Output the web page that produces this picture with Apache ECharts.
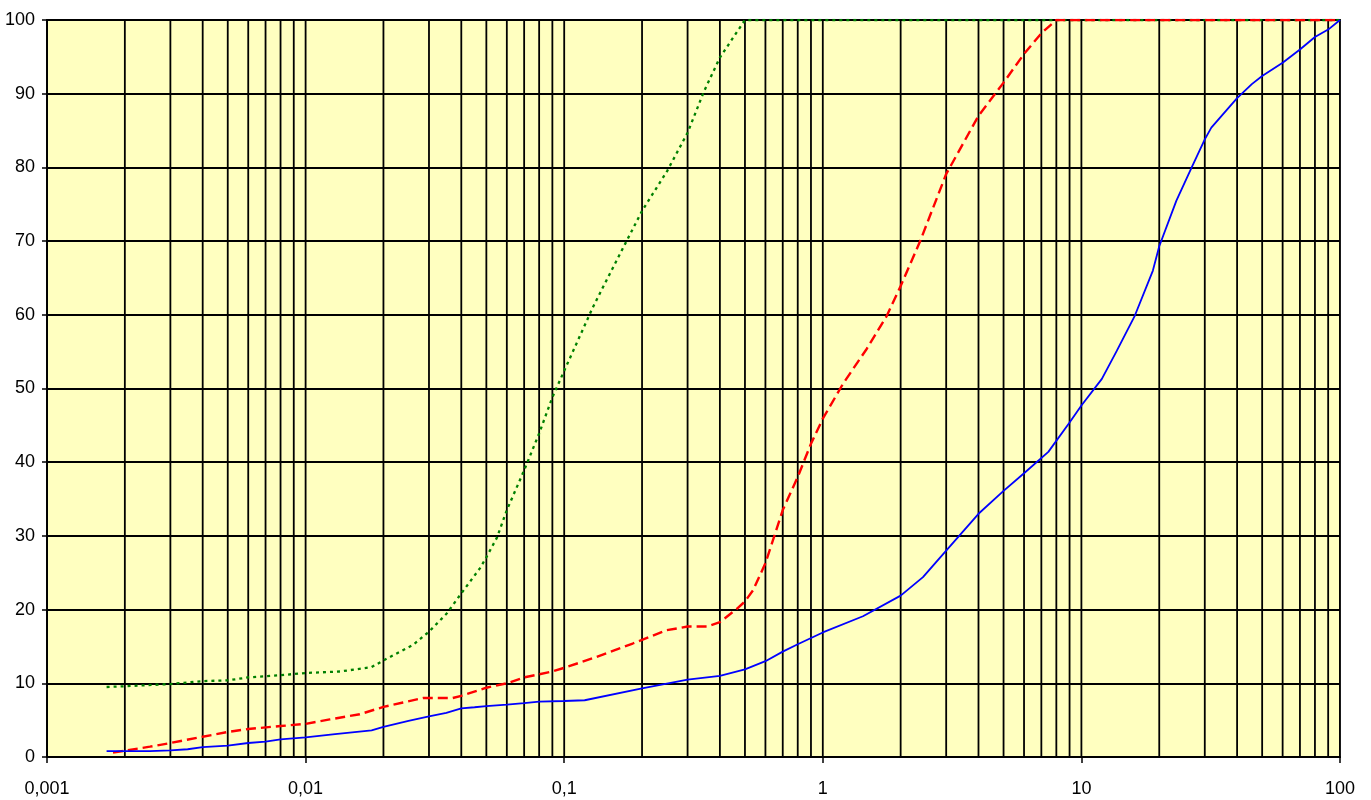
<!DOCTYPE html>
<html>
<head>
<meta charset="utf-8">
<script src="https://cdn.jsdelivr.net/npm/echarts@6/dist/echarts.min.js"></script>
<style>
html,body{margin:0;padding:0;background:#fff;}
#chart{width:1371px;height:800px;}
</style>
</head>
<body>
<div id="chart"></div>
<script>
// ---- data ----
const xTickLabels = ['0,001', '0,01', '0,1', '1', '10', '100'];
const yTicks = [0, 10, 20, 30, 40, 50, 60, 70, 80, 90, 100];
const minorMultipliers = [1, 2, 3, 4, 5, 6, 7, 8, 9];
const decades = [0.001, 0.01, 0.1, 1, 10];

const blueX = [0.0017, 0.002, 0.0025, 0.003, 0.0035, 0.004, 0.005, 0.006, 0.007, 0.008, 0.01, 0.013, 0.018, 0.02, 0.025, 0.03, 0.035, 0.04, 0.045, 0.05, 0.06, 0.07, 0.08, 0.1, 0.12, 0.2, 0.3, 0.4, 0.5, 0.6, 0.7, 0.8, 1, 1.43, 2, 2.44, 3, 4, 5, 6, 7.45, 9, 10, 12, 13.7, 16.1, 18.9, 20, 23.3, 26.7, 30, 31.8, 36.5, 40, 45.6, 50, 60, 70, 80, 90, 100];
const blueY = [0.8, 0.8, 0.8, 0.9, 1.05, 1.35, 1.55, 1.9, 2.1, 2.4, 2.65, 3.1, 3.6, 4.1, 4.9, 5.5, 6.0, 6.6, 6.75, 6.9, 7.1, 7.3, 7.5, 7.6, 7.7, 9.3, 10.5, 11.0, 11.9, 13.0, 14.3, 15.3, 16.9, 19.1, 21.9, 24.4, 28.0, 33.0, 36.1, 38.5, 41.4, 45.4, 47.7, 51.3, 55.1, 59.9, 66.0, 69.3, 75.5, 80.0, 83.8, 85.4, 87.8, 89.4, 91.3, 92.4, 94.2, 96.0, 97.7, 98.7, 100];

const redX = [0.0018, 0.0025, 0.003, 0.004, 0.005, 0.006, 0.008, 0.01, 0.0124, 0.0162, 0.02, 0.0238, 0.0285, 0.037, 0.04, 0.05, 0.06, 0.07, 0.09, 0.1, 0.129, 0.184, 0.249, 0.3, 0.356, 0.4, 0.465, 0.5, 0.537, 0.6, 0.7, 0.8, 0.9, 1, 1.2, 1.48, 1.77, 2, 2.38, 3, 4, 5, 6, 7, 8, 10, 20, 50, 100];
const redY = [0.6, 1.4, 1.9, 2.75, 3.4, 3.8, 4.2, 4.5, 5.1, 5.8, 6.8, 7.4, 8.0, 8.0, 8.3, 9.4, 10.0, 10.8, 11.6, 12.1, 13.4, 15.4, 17.2, 17.7, 17.7, 18.3, 20.1, 21.1, 22.6, 26.3, 33.5, 38.0, 42.5, 45.9, 50.7, 55.4, 59.9, 63.9, 70.0, 79.1, 87.0, 91.5, 95.4, 98.2, 100, 100, 100, 100, 100];

const greenX = [0.0017, 0.002, 0.003, 0.004, 0.005, 0.006, 0.008, 0.01, 0.0136, 0.018, 0.02, 0.026, 0.03, 0.0352, 0.04, 0.0472, 0.05, 0.055, 0.06, 0.07, 0.08, 0.09, 0.1, 0.129, 0.141, 0.2, 0.25, 0.3, 0.347, 0.4, 0.466, 0.5, 1, 10, 100];
const greenY = [9.5, 9.6, 9.9, 10.3, 10.4, 10.8, 11.1, 11.4, 11.6, 12.2, 13.1, 15.2, 17.0, 19.5, 22.2, 25.6, 27.1, 29.8, 33.5, 38.9, 43.9, 48.8, 52.4, 61.0, 63.7, 74.1, 79.5, 84.7, 90.3, 94.9, 98.4, 100, 100, 100, 100];

// ---- build ----
function pairs(xs, ys) { return xs.map((x, i) => [x, ys[i]]); }
const verticalLineValues = [];
decades.forEach(d => {
  minorMultipliers.forEach(m => verticalLineValues.push(+(d * m).toPrecision(6)));
});
verticalLineValues.push(100);

const font = "'Liberation Sans', Arial, sans-serif";

const chart = echarts.init(document.getElementById('chart'), null, { renderer: 'canvas' });
chart.setOption({
  animation: false,
  backgroundColor: '#ffffff',
  grid: {
    left: 47, right: 31, top: 20, bottom: 43,
    show: true, backgroundColor: '#FFFFC0', borderColor: '#000', borderWidth: 1.8
  },
  xAxis: {
    type: 'log', logBase: 10, min: 0.001, max: 100, splitNumber: 5,
    axisLine: { show: true, onZero: false, lineStyle: { color: '#000', width: 1.8 } },
    axisTick: { show: true, inside: false, length: 6, lineStyle: { color: '#000', width: 1.5 } },
    splitLine: { show: false },
    minorTick: { show: false },
    axisLabel: {
      color: '#000', fontSize: 18, fontFamily: font, margin: 23,
      formatter: v => xTickLabels[Math.round(Math.log10(v)) + 3]
    }
  },
  yAxis: {
    type: 'value', min: 0, max: 100, interval: 10,
    axisLine: { show: true, lineStyle: { color: '#000', width: 1.8 } },
    axisTick: { show: true, inside: false, length: 5, lineStyle: { color: '#000', width: 1.5 } },
    splitLine: { show: true, lineStyle: { color: '#000', width: 1.8 } },
    axisLabel: {
      color: '#000', fontSize: 18, fontFamily: font, margin: 12,
      formatter: v => String(yTicks[Math.round(v / 10)])
    }
  },
  series: [
    {
      type: 'custom', silent: true, z: 1, clip: true,
      data: verticalLineValues.map(v => [v, 0]),
      encode: { x: 0, y: 1 },
      renderItem: function (params, api) {
        const x = api.value(0);
        const p0 = api.coord([x, 0]);
        const p1 = api.coord([x, 100]);
        return {
          type: 'line',
          shape: { x1: p0[0], y1: p0[1], x2: p1[0], y2: p1[1] },
          style: { stroke: '#000', lineWidth: 1.8 }
        };
      }
    },
    {
      name: 'green', type: 'line', data: pairs(greenX, greenY), showSymbol: false, z: 3,
      lineStyle: { color: '#008000', width: 2.3, type: [3, 4] }
    },
    {
      name: 'red', type: 'line', data: pairs(redX, redY), showSymbol: false, z: 4,
      lineStyle: { color: '#FF0000', width: 2.4, type: [10, 5] }
    },
    {
      name: 'blue', type: 'line', data: pairs(blueX, blueY), showSymbol: false, z: 5,
      lineStyle: { color: '#0000FF', width: 1.8 }
    }
  ]
});
</script>
</body>
</html>
